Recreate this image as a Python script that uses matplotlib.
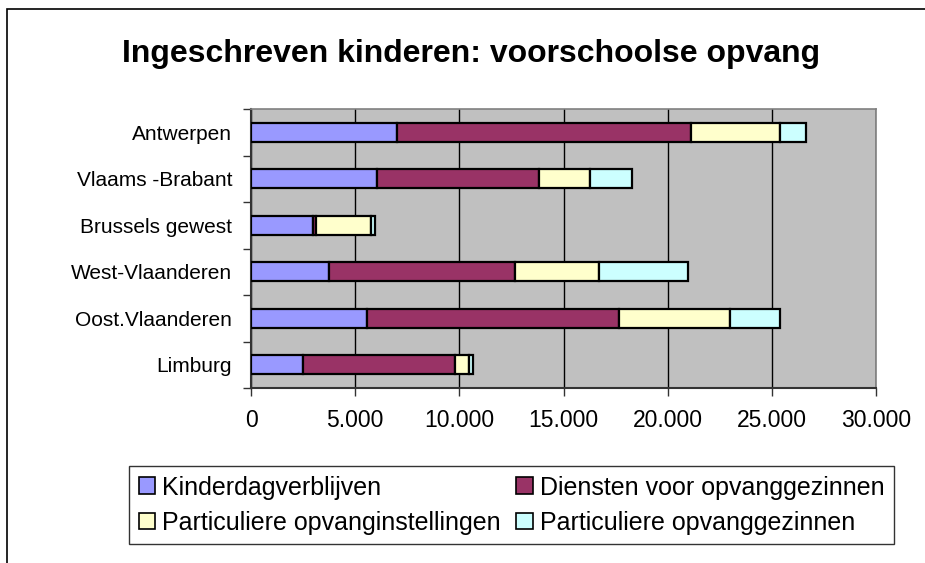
import matplotlib
matplotlib.use("Agg")
import matplotlib.pyplot as plt
import numpy as np
from matplotlib.patches import Rectangle

plt.rcParams['font.family'] = ['Liberation Sans', 'DejaVu Sans']

categories = ["Antwerpen", "Vlaams -Brabant", "Brussels gewest",
              "West-Vlaanderen", "Oost.Vlaanderen", "Limburg"]
kinderdagverblijven = [7000, 6030, 2970, 3740, 5560, 2490]
diensten_opvanggezinnen = [14140, 7770, 160, 8940, 12120, 7290]
part_opvanginstellingen = [4230, 2450, 2620, 4040, 5300, 690]
part_opvanggezinnen = [1280, 2020, 200, 4240, 2420, 200]

series_names = ["Kinderdagverblijven", "Diensten voor opvanggezinnen",
                "Particuliere opvanginstellingen", "Particuliere opvanggezinnen"]
series_values = [kinderdagverblijven, diensten_opvanggezinnen,
                 part_opvanginstellingen, part_opvanggezinnen]
colors = ["#9999FF", "#993366", "#FFFFCC", "#CCFFFF"]
xticks = [0, 5000, 10000, 15000, 20000, 25000, 30000]
xtick_labels = ["0", "5.000", "10.000", "15.000", "20.000", "25.000", "30.000"]

W, H = 925, 563
fig = plt.figure(figsize=(W / 100, H / 100), dpi=100)
fig.patch.set_facecolor("white")

# outer chart border
fig.add_artist(Rectangle((7 / W, -0.05), 1.0, (H - 9) / H + 0.05, transform=fig.transFigure,
                         fill=False, edgecolor="black", linewidth=1.2))

ax = fig.add_axes([251 / W, 1 - 388 / H, (876 - 251) / W, (388 - 109) / H])
ax.set_facecolor("#C0C0C0")

y = np.arange(len(categories))
left = np.zeros(len(categories))
handles = []
for name, vals, c in zip(series_names, series_values, colors):
    b = ax.barh(y, vals, left=left, height=0.4, color=c, edgecolor="black",
                linewidth=1.6, label=name, zorder=3)
    handles.append(b)
    left += np.array(vals)

ax.set_xlim(0, 30000)
ax.set_ylim(len(categories) - 0.5, -0.5)
ax.set_xticks(xticks)
ax.set_xticklabels(xtick_labels, fontsize=16.5)
ax.xaxis.grid(True, color="black", linewidth=1.0, zorder=1)
ax.set_axisbelow(True)

ax.set_yticks(np.arange(-0.5, len(categories), 1.0))
ax.set_yticklabels([])
ax.set_yticks(y, minor=True)
ax.set_yticklabels(categories, minor=True, fontsize=15)
ax.tick_params(axis="y", which="minor", length=0, pad=13.5)
ax.tick_params(axis="y", which="major", length=5.8, width=1, color="#333333", direction="out")
ax.tick_params(axis="x", which="major", length=5.8, width=1, color="#333333", direction="out", pad=9)

for s in ["top", "right"]:
    ax.spines[s].set_color("#808080")
    ax.spines[s].set_linewidth(1.2)
for s in ["left", "bottom"]:
    ax.spines[s].set_color("#333333")
    ax.spines[s].set_linewidth(1.5)

fig.text(471 / W, 1 - 54 / H, "Ingeschreven kinderen: voorschoolse opvang",
         ha="center", va="center", fontsize=23, fontweight="bold")

order = [0, 2, 1, 3]
leg = fig.legend([handles[i] for i in order], [series_names[i] for i in order],
                 ncol=2, loc="upper left", bbox_to_anchor=(129 / W, 1 - 466 / H),
                 fontsize=18, frameon=True, fancybox=False, edgecolor="black",
                 handlelength=0.66, handleheight=0.66, handletextpad=0.3,
                 columnspacing=0.6, labelspacing=0.45, borderpad=0.38, borderaxespad=0)
leg.get_frame().set_linewidth(1.0)
for p in leg.get_patches():
    p.set_linewidth(1.2)

fig.savefig("out.png", dpi=100)
